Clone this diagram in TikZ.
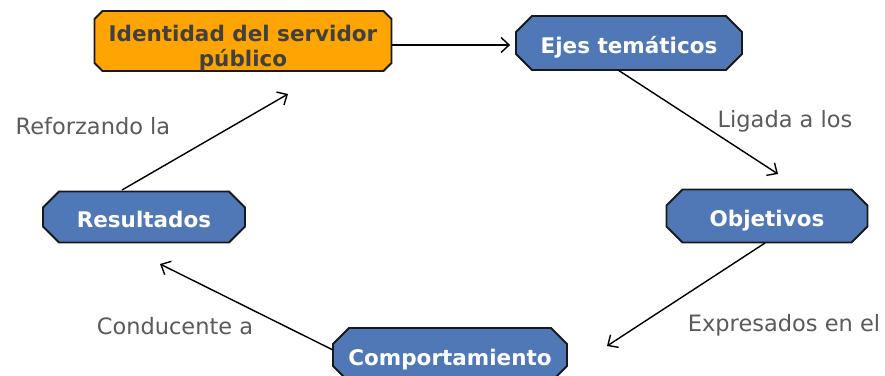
\documentclass[tikz,border=0pt]{standalone}
\usepackage{fontspec}
\setmainfont{DejaVu Sans}
\usetikzlibrary{shapes.misc,arrows.meta}
\definecolor{cajaazul}{HTML}{5078B6}
\definecolor{cajanaranja}{HTML}{FFA503}
\definecolor{textogris}{HTML}{5A5A5A}

\begin{document}
\begin{tikzpicture}[x=1pt,y=-1pt,
    caja/.style={chamfered rectangle,chamfered rectangle xsep=8pt,chamfered rectangle ysep=8pt,
        draw=black!90,line width=1.8pt,fill=cajaazul,text=white,inner sep=0pt,align=center,
        font=\bfseries\fontsize{21.5}{24}\selectfont},
    cajauna/.style={caja,text height=21pt,text depth=0pt},
    etiqueta/.style={text=textogris,inner sep=0pt,font=\fontsize{22.5}{26}\selectfont},
    flecha/.style={line width=1.4pt,-{Straight Barb[length=8pt,width=15pt,line width=1.4pt]}}]
    \useasboundingbox (0,0) rectangle (885,375);

    \node (ident) at (243,41) [caja,fill=cajanaranja,text=black!75,minimum width=297pt,minimum height=60pt,
        text height=0pt,text depth=0pt]
        {\begin{tabular}[t]{@{}c@{}}Identidad del servidor\\[1pt]público\end{tabular}};
    \node (ejes) at (629,43) [cajauna,minimum width=226pt,minimum height=54pt] {Ejes temáticos};
    \node (obj) at (767,216) [cajauna,minimum width=201pt,minimum height=53pt] {Objetivos};
    \node (comp) at (450,355) [cajauna,minimum width=234pt,minimum height=54pt] {Comportamiento};
    \node (res) at (144,217) [cajauna,minimum width=202pt,minimum height=51pt] {Resultados};

    \coordinate (p1) at (778,174);
    \coordinate (p2) at (607,346);
    \coordinate (p3) at (160,264);
    \coordinate (p4) at (288,94);

    \draw[flecha] (ident.east |- 0,45) -- ([xshift=-5pt]ejes.west |- 0,45);
    \draw[flecha] (618,70) -- (p1);
    \draw[flecha] (765,243) -- (p2);
    \draw[flecha] (333,350) -- (p3);
    \draw[flecha] (122,190) -- (p4);

    \node (l1) at (785,121) [etiqueta] {Ligada a los};
    \node (l2) at (784,325) [etiqueta] {Expresados en el};
    \node (l3) at (175,326) [etiqueta] {Conducente a};
    \node (l4) at (93,126) [etiqueta] {Reforzando la};
\end{tikzpicture}
\end{document}
